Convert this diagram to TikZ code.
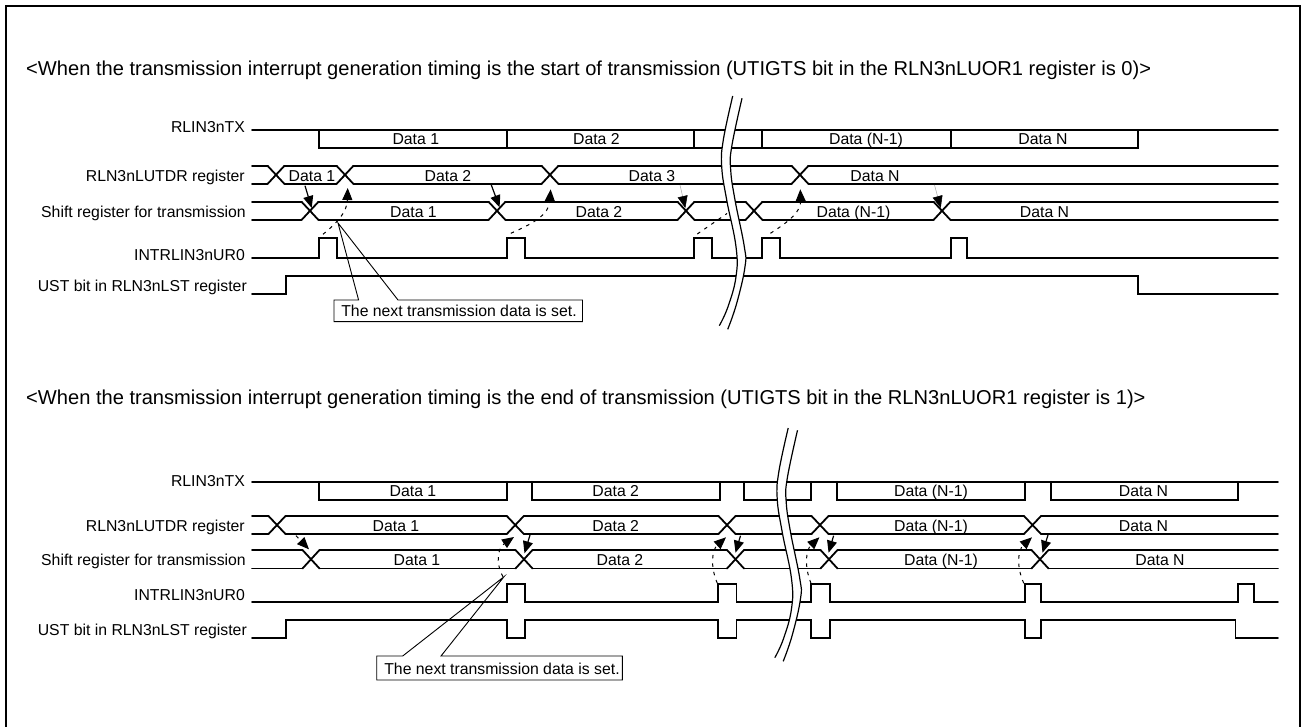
\documentclass[tikz,border=0pt]{standalone}
\usepackage{fontspec}
\setmainfont{Liberation Sans}
\usetikzlibrary{arrows.meta}
\tikzset{
  wire/.style={line width=1.8pt,line join=miter,line cap=round,black},
  thinline/.style={line width=0.9pt,black},
  lab/.style={anchor=base east,inner sep=0pt,font=\fontsize{15.8}{18}\selectfont},
  dat/.style={anchor=base,inner sep=0pt,font=\fontsize{15.8}{18}\selectfont},
  head/.style={anchor=base west,inner sep=0pt,font=\fontsize{20.1}{23}\selectfont},
  tip/.style={-{Triangle[length=12pt,width=10pt,color=black,fill=black]}},
  solidarrow/.style={tip,line width=1.2pt,black},
  greyarrow/.style={tip,line width=0.5pt,draw=black!35},
  dasharrow/.style={tip,line width=1pt,dash pattern=on 3.5pt off 5pt,black},
  wavewhite/.style={fill=white,draw=none},
  waveline/.style={line width=1.2pt,black},
}
\newcommand{\busdraw}[4]{%
  \foreach \xx [remember=\xx as \pp (initially 243.5)] in {#3} {
    \draw[wire] ({\pp+8.5},#1) -- ({\xx-8.5},#1);
    \draw[wire] ({\pp+8.5},#2) -- ({\xx-8.5},#2);
    \draw[wire] ({\xx-8.5},#1) -- ({\xx+8.5},#2);
    \draw[wire] ({\xx-8.5},#2) -- ({\xx+8.5},#1);
  }
  \draw[wire] ({#4+8.5},#1) -- (1278,#1);
  \draw[wire] ({#4+8.5},#2) -- (1278,#2);
}
\newcommand{\breakwave}[2]{%
  \begin{scope}[shift={(#1,#2)}]
    \fill[wavewhite] plot[smooth,tension=0.7] coordinates {(732.7,96) (723.3,140) (721.7,166.7) (726.7,200) (736,246.7) (736,276.7) (728,306.7) (719.3,325.7)}
      -- plot[smooth,tension=0.7] coordinates {(727.7,329.3) (736.7,303.3) (745,266.7) (744.3,246.7) (735,200) (730.7,170) (731.7,146.7) (742,98.3)} -- cycle;
    \draw[waveline] plot[smooth,tension=0.7] coordinates {(732.7,96) (723.3,140) (721.7,166.7) (726.7,200) (736,246.7) (736,276.7) (728,306.7) (719.3,325.7)};
    \draw[waveline] plot[smooth,tension=0.7] coordinates {(727.7,329.3) (736.7,303.3) (745,266.7) (744.3,246.7) (735,200) (730.7,170) (731.7,146.7) (742,98.3)};
  \end{scope}
}
\begin{document}
\begin{tikzpicture}[x=1pt,y=-1pt]
\useasboundingbox (0,0) rectangle (1301,727);
\fill[white] (0,0) rectangle (1301,727);
\draw[line width=2.4pt,line cap=butt,line join=miter] (6,727) -- (6,6) -- (1300,6) -- (1300,727);

% headings
\node[head] (h1) at (26,76) {<When the transmission interrupt generation timing is the start of transmission (UTIGTS bit in the RLN3nLUOR1 register is 0)>};
\node[head] (h2) at (26,404) {<When the transmission interrupt generation timing is the end of transmission (UTIGTS bit in the RLN3nLUOR1 register is 1)>};

% ---------- upper chart: labels
\node[lab] (a1) at (245,133) {RLIN3nTX};
\node[lab] (a2) at (245,181.5) {RLN3nLUTDR register};
\node[lab] (a3) at (246,218) {Shift register for transmission};
\node[lab] (a4) at (245,261) {INTRLIN3nUR0};
\node[lab] (a5) at (247,291.5) {UST bit in RLN3nLST register};

% TX
\draw[wire] (252,130) -- (1278,130);
\draw[wire] (319,130) -- (319,148) -- (1138,148) -- (1138,130);
\foreach \x in {506.6,693.6,761.7,950.6} \draw[wire] (\x,130) -- (\x,148);
% buses
\busdraw{165.7}{184}{276,345,550,800}{800}
\busdraw{201.7}{220}{310,497,686,754,942}{942}
% INTR
\draw[wire] (252,257.7) -- (319,257.7) -- (319,237.7) -- (337,237.7) -- (337,257.7)
  -- (507,257.7) -- (507,237.7) -- (525,237.7) -- (525,257.7)
  -- (694,257.7) -- (694,237.7) -- (712,237.7) -- (712,257.7)
  -- (762,257.7) -- (762,237.7) -- (780,237.7) -- (780,257.7)
  -- (951,257.7) -- (951,237.7) -- (967,237.7) -- (967,257.7) -- (1278,257.7);
% UST
\draw[wire] (252,293.7) -- (286,293.7) -- (286,275.7) -- (1138,275.7) -- (1138,293.7) -- (1278,293.7);

% data labels
\node[dat] (t1) at (415.8,144.5) {Data 1};
\node[dat] (t2) at (596.4,144.5) {Data 2};
\node[dat] (t3) at (866,144.5) {Data (N-1)};
\node[dat] (t4) at (1043,144.5) {Data N};
\node[dat] (u1) at (312,181.5) {Data 1};
\node[dat] (u2) at (448,181.5) {Data 2};
\node[dat] (u3) at (652,181.5) {Data 3};
\node[dat] (u4) at (875,181.5) {Data N};
\node[dat] (s1) at (413.5,218) {Data 1};
\node[dat] (s2) at (599,218) {Data 2};
\node[dat] (s3) at (853.5,218) {Data (N-1)};
\node[dat] (s4) at (1044.5,218) {Data N};

% arrows upper
\coordinate (p1) at (305,185.7); \coordinate (p1e) at (311.7,208);
\coordinate (p2) at (491.3,185); \coordinate (p2e) at (499.6,207.3);
\coordinate (p3) at (680,185); \coordinate (p3e) at (685.3,208);
\coordinate (p4) at (934.5,185); \coordinate (p4e) at (940.7,208);
\draw[solidarrow] (p1) -- (p1e);
\draw[solidarrow] (p2) -- (p2e);
\draw[greyarrow] (p3) -- (p3e);
\draw[greyarrow] (p4) -- (p4e);
\coordinate (d1) at (323,234.3); \coordinate (d1e) at (347.7,188);
\coordinate (d2) at (510.8,233.3); \coordinate (d2e) at (550.6,189.3);
\coordinate (d3) at (697.3,234); \coordinate (d3e) at (727,213.5);
\coordinate (d4) at (770.4,233.3); \coordinate (d4e) at (800.3,189.3);
\draw[dasharrow] (d1) .. controls (338,222) and (347,212) .. (d1e);
\draw[dasharrow] (d2) .. controls (532,224) and (549,215) .. (d2e);
\draw[line width=1pt,dash pattern=on 3.5pt off 5pt] (d3) -- (d3e);
\draw[dasharrow] (d4) .. controls (790,221) and (801,211) .. (d4e);

% callout upper
\node[dat] (c1) at (459,316.5) {The next transmission data is set.};
\coordinate (c1tip) at (338,223);
\draw[thinline,line join=miter] (c1tip) -- (358.6,300) -- (334,300) -- (334,321.7) -- (582.5,321.7) -- (582.5,300) -- (398,300) -- cycle;

\breakwave{0}{0}

% ---------- lower chart: labels
\node[lab] (b1) at (245,486) {RLIN3nTX};
\node[lab] (b2) at (245,531.5) {RLN3nLUTDR register};
\node[lab] (b3) at (246,565.5) {Shift register for transmission};
\node[lab] (b4) at (245,600.5) {INTRLIN3nUR0};
\node[lab] (b5) at (247,635.5) {UST bit in RLN3nLST register};

% TX
\draw[wire] (252,481.7) -- (1278,481.7);
\draw[wire] (319,481.7) -- (319,500) -- (506.6,500) -- (506.6,481.7);
\draw[wire] (532,481.7) -- (532,500) -- (719.8,500) -- (719.8,481.7);
\draw[wire] (744.3,481.7) -- (744.3,500) -- (811,500) -- (811,481.7);
\draw[wire] (837,481.7) -- (837,500) -- (1024.6,500) -- (1024.6,481.7);
\draw[wire] (1050.7,481.7) -- (1050.7,500) -- (1238,500) -- (1238,481.7);
% buses
\busdraw{516}{534}{277,515.3,727,820,1032.5}{1032.5}
\busdraw{550}{568.5}{311,524,735.5,829,1040}{1040}
% INTR
\draw[wire] (252,602.3) -- (507,602.3) -- (507,584) -- (525,584) -- (525,602.3)
  -- (717.7,602.3) -- (717.7,584) -- (736.4,584) -- (736.4,602.3)
  -- (811,602.3) -- (811,584) -- (830,584) -- (830,602.3)
  -- (1024.6,602.3) -- (1024.6,584) -- (1040.8,584) -- (1040.8,602.3)
  -- (1237.6,602.3) -- (1237.6,584) -- (1254,584) -- (1254,602.3) -- (1278,602.3);
% UST
\draw[wire] (252,638) -- (286,638) -- (286,620) -- (507,620) -- (507,638) -- (525,638) -- (525,620)
  -- (717.7,620) -- (717.7,638) -- (736.4,638) -- (736.4,620)
  -- (811,620) -- (811,638) -- (830,638) -- (830,620)
  -- (1024.6,620) -- (1024.6,638) -- (1040.8,638) -- (1040.8,620)
  -- (1235.5,620) -- (1235.5,638) -- (1278,638);

% data labels
\node[dat] (v1) at (413,496) {Data 1};
\node[dat] (v2) at (615.7,496) {Data 2};
\node[dat] (v3) at (931,496) {Data (N-1)};
\node[dat] (v4) at (1143.5,496) {Data N};
\node[dat] (w1) at (396,531.5) {Data 1};
\node[dat] (w2) at (615.7,531.5) {Data 2};
\node[dat] (w3) at (931,531.5) {Data (N-1)};
\node[dat] (w4) at (1143.5,531.5) {Data N};
\node[dat] (x1) at (417,565.5) {Data 1};
\node[dat] (x2) at (620,565.5) {Data 2};
\node[dat] (x3) at (941,565.5) {Data (N-1)};
\node[dat] (x4) at (1160,565.5) {Data N};

% arrows lower
\coordinate (q0) at (296,535.7); \coordinate (q0e) at (309,549.3);
\draw[dasharrow] (q0) -- (q0e);
\coordinate (q1) at (530,535); \coordinate (q1e) at (524.5,553.3);
\coordinate (q2) at (740.5,535.7); \coordinate (q2e) at (735.5,552.7);
\coordinate (q3) at (833.6,535.7); \coordinate (q3e) at (828.6,552.7);
\coordinate (q4) at (1048,535); \coordinate (q4e) at (1042.5,552.7);
\foreach \n in {q1,q2,q3,q4} \draw[solidarrow] (\n) -- (\n e);
\coordinate (r1) at (503,576.7); \coordinate (r1e) at (514,537);
\coordinate (r2) at (717.3,583.3); \coordinate (r2e) at (726,537.3);
\coordinate (r3) at (811,583.3); \coordinate (r3e) at (819.4,537.3);
\coordinate (r4) at (1023.8,583.3); \coordinate (r4e) at (1032,537.3);
\draw[dasharrow] (r1) .. controls (495,562) and (498,548) .. (r1e);
\draw[dasharrow] (r2) .. controls (710,566) and (712,550) .. (r2e);
\draw[dasharrow] (r3) .. controls (804,566) and (806,550) .. (r3e);
\draw[dasharrow] (r4) .. controls (1016,566) and (1018,550) .. (r4e);

% callout lower
\node[dat] (c2) at (502,674) {The next transmission data is set.};
\coordinate (c2tip) at (504,576.7);
\draw[thinline,line join=miter] (c2tip) -- (402.7,656) -- (376.7,656) -- (376.7,680) -- (622.3,680) -- (622.3,656) -- (441,656) -- cycle;

\breakwave{55.5}{332}
\end{tikzpicture}
\end{document}
